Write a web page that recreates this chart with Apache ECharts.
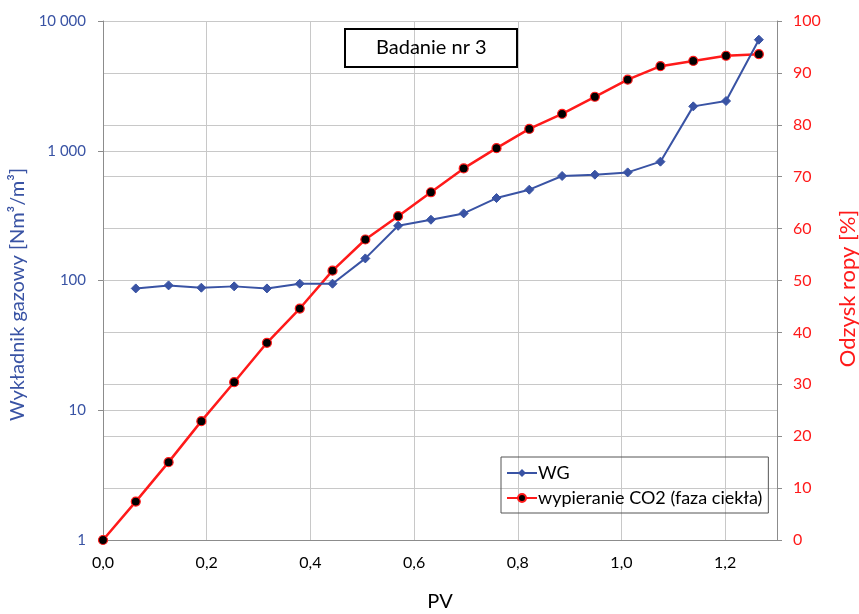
<!DOCTYPE html>
<html>
<head>
<meta charset="utf-8">
<script src="https://cdn.jsdelivr.net/npm/echarts@6/dist/echarts.min.js"></script>
<style>html,body{margin:0;padding:0;background:#fff;overflow:hidden}#c{width:859px;height:614px}</style>
</head>
<body>
<div id="c"></div>
<script>
// PV values (pore volumes)
const pvRed = [0, 0.0632, 0.1265, 0.1897, 0.2530, 0.3162, 0.3795, 0.4427, 0.5060, 0.5692, 0.6325, 0.6957, 0.7590, 0.8222, 0.8855, 0.9487, 1.0120, 1.0752, 1.1385, 1.2017, 1.2650];
const recovery = [0, 7.4, 15.0, 22.9, 30.4, 38.0, 44.6, 51.9, 57.9, 62.4, 67.0, 71.6, 75.5, 79.2, 82.1, 85.4, 88.7, 91.3, 92.3, 93.3, 93.6];
const pvBlue = [0.0632, 0.1265, 0.1897, 0.2530, 0.3162, 0.3795, 0.4427, 0.5060, 0.5692, 0.6325, 0.6957, 0.7590, 0.8222, 0.8855, 0.9487, 1.0120, 1.0752, 1.1385, 1.2017, 1.2650];
const wg = [86.9, 91.7, 88.0, 90.1, 86.9, 94.5, 94.5, 148, 264, 294, 329, 432, 501, 639, 654, 681, 824, 2198, 2417, 7176];
const seriesNames = ['WG', 'wypieranie CO2 (faza ciekła)'];
const titleText = 'Badanie nr 3';
const xName = 'PV';
const yLeftName = 'Wykładnik gazowy [Nm³/m³]';
const yRightName = 'Odzysk ropy [%]';

const FONT = 'Lato';
const BLUE = '#3953a4';
const RED = '#ff1a1a';
const GRID = '#c8c8c8';
const AXIS = '#8c8c8c';

const chart = echarts.init(document.getElementById('c'));
chart.setOption({
  animation: false,
  backgroundColor: '#fff',
  textStyle: { fontFamily: FONT },
  title: {
    text: titleText,
    left: 345, top: 29,
    borderColor: '#000', borderWidth: 2,
    padding: [9, 31, 9, 31],
    textStyle: { fontFamily: FONT, fontSize: 20, fontWeight: 'normal', color: '#000' }
  },
  legend: {
    left: 501, top: 457,
    orient: 'vertical',
    data: seriesNames,
    borderColor: '#555', borderWidth: 1,
    padding: [7, 6, 6, 5],
    itemGap: 7,
    itemWidth: 30, itemHeight: 10,
    textStyle: { fontFamily: FONT, fontSize: 18, color: '#000', padding: [0, 0, 0, -4] }
  },
  grid: { left: 103, right: 82, top: 21, bottom: 74, containLabel: false, outerBoundsMode: 'none' },
  xAxis: {
    type: 'value', min: 0, max: 1.3, interval: 0.2,
    name: xName, nameLocation: 'middle', nameGap: 52,
    nameTextStyle: { fontFamily: FONT, fontSize: 20, color: '#000' },
    axisLine: { show: true, lineStyle: { color: AXIS, width: 1 } },
    axisTick: { show: false },
    axisLabel: {
      fontFamily: FONT, fontSize: 16, color: '#000', margin: 15,
      showMaxLabel: false,
      formatter: v => (Math.abs(v - 1.3) < 1e-6 ? '' : v.toFixed(1).replace('.', ','))
    },
    splitLine: { show: true, lineStyle: { color: GRID, width: 1 } }
  },
  yAxis: [
    {
      type: 'log', logBase: 10, min: 1, max: 10000,
      position: 'left',
      name: yLeftName, nameLocation: 'middle', nameGap: 73, nameRotate: 90,
      nameTextStyle: { fontFamily: FONT, fontSize: 20, color: BLUE, padding: [0, 28, 0, 0] },
      axisLine: { show: true, lineStyle: { color: AXIS, width: 1 } },
      axisTick: { show: true, length: 5, lineStyle: { color: AXIS } },
      axisLabel: {
        fontFamily: FONT, fontSize: 15, color: BLUE, margin: 17,
        formatter: v => String(Math.round(v)).replace(/\B(?=(\d{3})+(?!\d))/g, ' ')
      },
      splitLine: { show: true, lineStyle: { color: GRID, width: 1 } },
      minorTick: { show: false }
    },
    {
      type: 'value', min: 0, max: 100, interval: 10,
      position: 'right',
      name: yRightName, nameLocation: 'middle', nameGap: 60, nameRotate: 90,
      nameTextStyle: { fontFamily: FONT, fontSize: 22, color: RED, padding: [0, 16, 0, 0] },
      axisLine: { show: true, lineStyle: { color: AXIS, width: 1 } },
      axisTick: { show: true, length: 5, lineStyle: { color: AXIS } },
      axisLabel: { fontFamily: FONT, fontSize: 16, color: RED, margin: 16 },
      splitLine: { show: true, lineStyle: { color: GRID, width: 1 } }
    }
  ],
  series: [
    {
      name: seriesNames[1], type: 'line', yAxisIndex: 1, z: 3,
      data: pvRed.map((x, i) => [x, recovery[i]]),
      symbol: 'circle', symbolSize: 9,
      lineStyle: { color: RED, width: 2.5 },
      itemStyle: { color: '#000', borderColor: RED, borderWidth: 1.2 }
    },
    {
      name: seriesNames[0], type: 'line', yAxisIndex: 0, z: 4,
      data: pvBlue.map((x, i) => [x, wg[i]]),
      symbol: 'diamond', symbolSize: [9, 9],
      lineStyle: { color: BLUE, width: 2 },
      itemStyle: { color: BLUE, borderColor: BLUE }
    }
  ]
});
</script>
</body>
</html>
